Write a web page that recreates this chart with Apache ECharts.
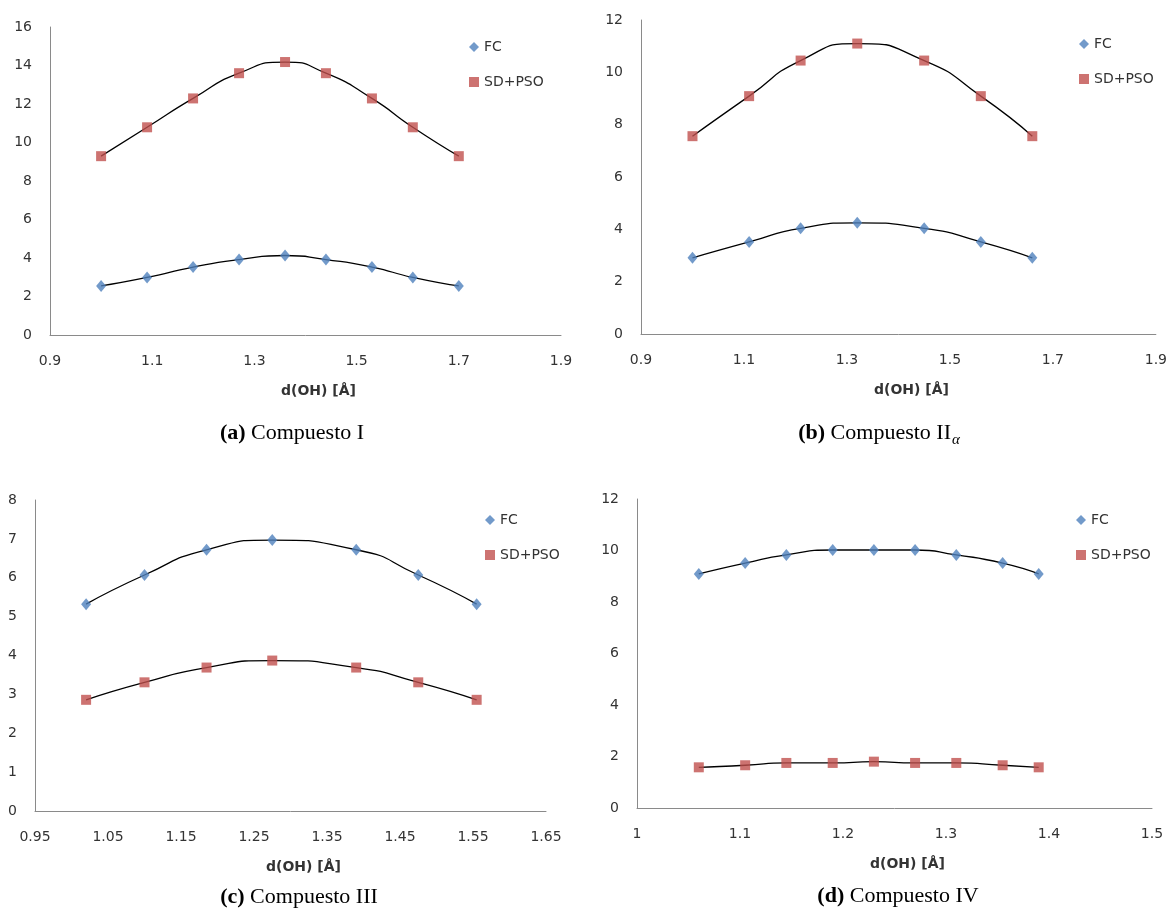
<!DOCTYPE html>
<html>
<head>
<meta charset="utf-8">
<script src="https://cdn.jsdelivr.net/npm/echarts@6/dist/echarts.min.js"></script>
<style>
  html, body { margin: 0; background: #fff; }
  #chart { width: 1170px; height: 921px; }
</style>
</head>
<body>
<div id="chart"></div>
<script>
// (a) Compuesto I
const xA = [1.00, 1.09, 1.18, 1.27, 1.36, 1.44, 1.53, 1.61, 1.70];
const fcA = [2.55, 2.99, 3.53, 3.92, 4.13, 3.92, 3.53, 2.99, 2.55];
const sdA = [9.29, 10.79, 12.29, 13.6, 14.18, 13.6, 12.29, 10.79, 9.29];

// (b) Compuesto II alpha
const xB = [1.00, 1.11, 1.21, 1.32, 1.45, 1.56, 1.66];
const fcB = [2.91, 3.52, 4.04, 4.25, 4.04, 3.52, 2.91];
const sdB = [7.56, 9.09, 10.45, 11.1, 10.45, 9.09, 7.56];

// (c) Compuesto III
const xC = [1.02, 1.10, 1.185, 1.275, 1.39, 1.475, 1.555];
const fcC = [5.32, 6.07, 6.72, 6.97, 6.72, 6.07, 5.32];
const sdC = [2.86, 3.31, 3.69, 3.87, 3.69, 3.31, 2.86];

// (d) Compuesto IV
const xD = [1.06, 1.105, 1.145, 1.19, 1.23, 1.27, 1.31, 1.355, 1.39];
const fcD = [9.09, 9.51, 9.83, 10.02, 10.02, 10.02, 9.83, 9.51, 9.09];
const sdD = [1.58, 1.66, 1.75, 1.75, 1.80, 1.75, 1.75, 1.66, 1.58];

const seriesNames = ['FC', 'SD+PSO'];
const xAxisName = 'd(OH) [Å]';

const chart = echarts.init(document.getElementById('chart'));

const panels = [
  { x: xA, fc: fcA, sd: sdA, grid: { left: 50, top: 27, width: 511, height: 308 },
    xMin: 0.9, xMax: 1.9, xStep: 0.1, xDec: 1, yMax: 16, yStep: 2, legend: [464, 35] },
  { x: xB, fc: fcB, sd: sdB, grid: { left: 641, top: 20, width: 515, height: 314 },
    xMin: 0.9, xMax: 1.9, xStep: 0.1, xDec: 1, yMax: 12, yStep: 2, legend: [1074, 32] },
  { x: xC, fc: fcC, sd: sdC, grid: { left: 35, top: 500, width: 511, height: 311 },
    xMin: 0.95, xMax: 1.65, xStep: 0.05, xDec: 2, yMax: 8, yStep: 1, legend: [480, 508] },
  { x: xD, fc: fcD, sd: sdD, grid: { left: 637, top: 499, width: 515, height: 309 },
    xMin: 1, xMax: 1.5, xStep: 0.1, xDec: 0, yMax: 12, yStep: 2, legend: [1071, 508] }
];

const labelColor = '#333';
const axisColor = '#8a8a8a';
const grids = [], xAxes = [], yAxes = [], legends = [], series = [];

panels.forEach((p, i) => {
  grids.push(p.grid);
  xAxes.push({
    type: 'value', gridIndex: i, min: p.xMin, max: p.xMax, interval: p.xStep,
    name: xAxisName, nameLocation: 'middle', nameGap: 49,
    nameTextStyle: { fontFamily: 'DejaVu Sans', fontWeight: 'bold', fontSize: 14, color: labelColor, padding: [0, 0, 0, 26] },
    axisLine: { show: true, lineStyle: { color: axisColor, width: 1 } },
    axisTick: { show: false },
    splitLine: { show: false },
    axisLabel: {
      color: labelColor, fontFamily: 'DejaVu Sans', fontSize: 14, margin: 19,
      showMinLabel: true, showMaxLabel: true,
      formatter: (v, idx) => {
        if (p.xDec === 0) return String(+v.toFixed(1));
        return idx % 2 === 0 ? v.toFixed(p.xDec) : '';
      }
    }
  });
  yAxes.push({
    type: 'value', gridIndex: i, min: 0, max: p.yMax, interval: p.yStep,
    axisLine: { show: true, lineStyle: { color: axisColor, width: 1 } },
    axisTick: { show: false },
    splitLine: { show: false },
    axisLabel: { color: labelColor, fontFamily: 'DejaVu Sans', fontSize: 14, margin: 18 }
  });
  legends.push({
    left: p.legend[0], top: p.legend[1], orient: 'vertical', itemGap: 21,
    itemWidth: 10, itemHeight: 10, selectedMode: false,
    textStyle: { color: labelColor, fontFamily: 'DejaVu Sans', fontSize: 14 },
    data: [{ name: seriesNames[0], icon: 'diamond' }, { name: seriesNames[1], icon: 'rect' }]
  });
  [p.fc, p.sd].forEach((ys) => {
    series.push({
      type: 'line', xAxisIndex: i, yAxisIndex: i, silent: true, smooth: 0.6,
      showSymbol: false, z: 2,
      lineStyle: { color: '#000', width: 1.3 },
      data: p.x.map((x, k) => [x, ys[k]])
    });
  });
  series.push({
    name: seriesNames[0], type: 'scatter', xAxisIndex: i, yAxisIndex: i, z: 3,
    symbol: 'diamond', symbolSize: [10, 12],
    itemStyle: { color: '#4F81BD' },
    data: p.x.map((x, k) => [x, p.fc[k]])
  });
  series.push({
    name: seriesNames[1], type: 'scatter', xAxisIndex: i, yAxisIndex: i, z: 3,
    symbol: 'rect', symbolSize: 10,
    itemStyle: { color: '#C0504D' },
    data: p.x.map((x, k) => [x, p.sd[k]])
  });
});

const capFont = '22px "Liberation Serif"';
const capRich = { b: { fontWeight: 'bold', fontFamily: 'Liberation Serif', fontSize: 22, fill: '#000' } };
function caption(x, y, text, align) {
  return { type: 'text', x: x, y: y,
    style: { text: text, font: capFont, align: align || 'center', verticalAlign: 'middle', fill: '#000', rich: capRich } };
}

chart.setOption({
  animation: false,
  backgroundColor: '#fff',
  grid: grids,
  xAxis: xAxes,
  yAxis: yAxes,
  legend: legends,
  series: series,
  graphic: [
    caption(292, 433, '{b|(a)} Compuesto I'),
    caption(951, 433, '{b|(b)} Compuesto II', 'right'),
    { type: 'text', x: 952, y: 440,
      style: { text: 'α', font: 'italic 15px "Liberation Serif"', align: 'left', verticalAlign: 'middle', fill: '#000' } },
    caption(299, 897, '{b|(c)} Compuesto III'),
    caption(898, 896, '{b|(d)} Compuesto IV')
  ]
});
</script>
</body>
</html>
